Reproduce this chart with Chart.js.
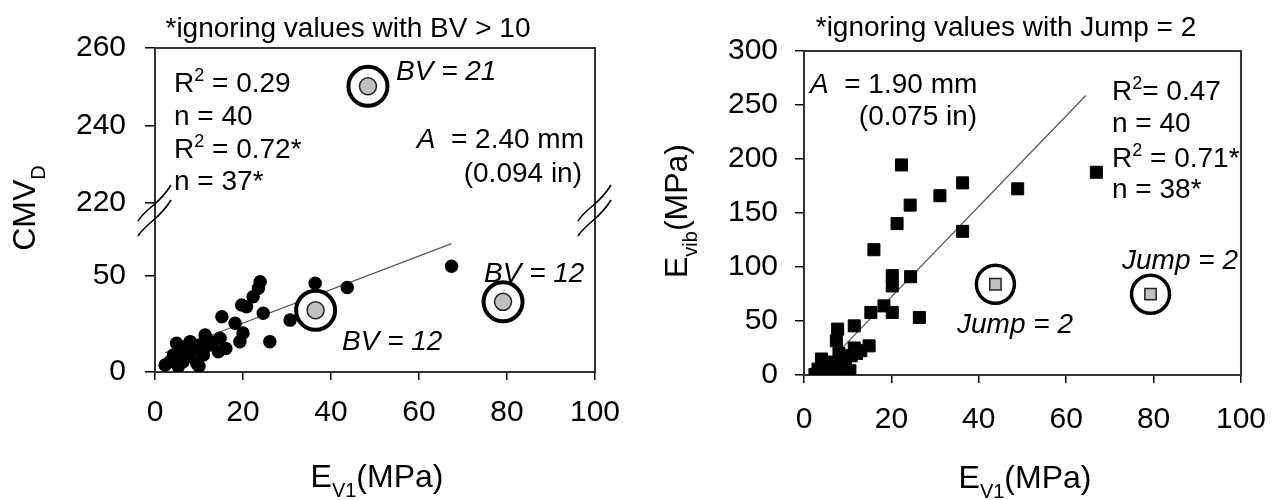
<!DOCTYPE html>
<html>
<head>
<meta charset="utf-8">
<script src="https://cdn.jsdelivr.net/npm/chart.js@4.4.1/dist/chart.umd.min.js"></script>
<style>
  body { margin: 0; background: #fff; }
  #wrap { position: relative; width: 1285px; height: 500px; }
  canvas { position: absolute; top: 0; }
  #left { left: 0; }
  #right { left: 642px; }
</style>
</head>
<body>
<div id="wrap">
  <canvas id="left" width="642" height="500"></canvas>
  <canvas id="right" width="643" height="500"></canvas>
</div>
<script>
// left panel: CMV_D vs E_V1 (A = 2.40 mm)
const cmvX = [67.4, 43.7, 36.4, 30.7, 26.1, 24.6, 23.9, 23.5, 22.3, 20.8, 19.7, 18.2, 20.0, 19.3, 15.2, 14.8, 14.4, 16.1, 11.4, 10.2, 8.0, 4.9, 5.7, 3.4, 2.3, 5.3, 9.5, 8.0, 11.0, 6.8, 9.1, 4.2, 6.4, 12.2, 7.2, 10.0, 13.0];
const cmvY = [55, 44, 46.2, 27, 15.8, 30.6, 47, 43.6, 39.2, 34, 34.9, 25.4, 20.3, 15.8, 28.8, 17.5, 10.6, 12.2, 19.3, 14.1, 15.8, 15, 10.6, 5.4, 3.6, 2.8, 4.5, 8.9, 8.9, 10.6, 12.3, 8.9, 5.4, 13.9, 13.5, 3.0, 15.6];
const cmvOutX = [36.5, 79.1];      // BV = 12
const cmvOutY = [32.1, 36.5];
const cmvHighX = [48.4];           // BV = 21
const cmvHighY = [250.1];
const cmvFitX = [2.3, 67.4];
const cmvFitY = [10.0, 66.8];
const cmvLowTicks = [0, 50];
const cmvHighTicks = [220, 240, 260];

// right panel: E_vib vs E_V1 (A = 1.90 mm)
const evibX = [66.9, 48.9, 36.3, 31.1, 22.3, 24.3, 21.3, 36.3, 16.0, 24.4, 20.2, 20.2, 18.3, 20.2, 15.3, 26.4, 11.5, 7.7, 7.4, 14.9, 13.0, 10.8, 8.5, 4.0, 3.2, 6.3, 9.3, 2.5, 5.0, 7.5, 10.5, 6.0, 9.5, 12.0, 4.5, 8.0, 11.5, 5.5];
const evibY = [187.7, 172.4, 177.9, 166, 194.5, 157.3, 140.2, 133, 116, 91, 92, 82.5, 64, 57.9, 57.9, 53.3, 45.5, 42.5, 31.7, 27, 22.5, 17.8, 14.8, 14.8, 5.5, 7.1, 7.1, 0.5, 2, 3, 4, 12, 12, 20, 9, 20, 25, 0.5];
const evibOutX = [43.8, 79.3];     // Jump = 2
const evibOutY = [84, 74.8];
const evibFitX = [3.0, 64.5];
const evibFitY = [1.1, 258.8];
const evibTicks = [0, 50, 100, 150, 200, 250, 300];

const xTicks = [0, 20, 40, 60, 80, 100];

const FONT = "'Liberation Sans', Arial, sans-serif";
const pts = (xs, ys) => xs.map((x, i) => ({x: x, y: ys[i]}));
const setTicks = vals => scale => { scale.ticks = vals.map(v => ({value: v})); };

// draw a line of text made of runs (italic / superscript / subscript)
function runs(ctx, x, y, parts, align, size) {
  const fontOf = p => (p.italic ? 'italic ' : '') + Math.round((p.sup || p.sub) ? size * 0.64 : size) + 'px ' + FONT;
  let total = 0;
  parts.forEach(p => { ctx.font = fontOf(p); p.w = ctx.measureText(p.t).width; total += p.w; });
  let cx = align === 'center' ? x - total / 2 : align === 'right' ? x - total : x;
  ctx.textAlign = 'left';
  ctx.textBaseline = 'alphabetic';
  ctx.fillStyle = '#000';
  parts.forEach(p => {
    ctx.font = fontOf(p);
    const dy = p.sup ? -size * 0.4 : p.sub ? size * 0.3 : 0;
    ctx.fillText(p.t, cx, y + dy);
    cx += p.w;
  });
}

function vertical(ctx, x, y, parts, size) {
  ctx.save();
  ctx.translate(x, y);
  ctx.rotate(-Math.PI / 2);
  runs(ctx, 0, 0, parts, 'center', size);
  ctx.restore();
}

const boxPlugin = {
  id: 'box',
  beforeDatasetsDraw(chart) {
    const a = chart.chartArea, ctx = chart.ctx;
    ctx.save();
    ctx.strokeStyle = '#333';
    ctx.lineWidth = 2;
    ctx.strokeRect(a.left, a.top, a.right - a.left, a.bottom - a.top);
    ctx.restore();
  }
};

function xScale(pad) {
  return {
    type: 'linear', min: 0, max: 100,
    afterBuildTicks: setTicks(xTicks),
    border: {display: false},
    grid: {drawOnChartArea: false, drawTicks: true, tickLength: 8, color: '#000', lineWidth: 1.5},
    ticks: {font: {family: FONT, size: 30}, color: '#000', padding: pad, maxRotation: 0, autoSkip: false}
  };
}

function yGrid(len) {
  return {drawOnChartArea: false, drawTicks: true, tickLength: len, color: '#000', lineWidth: 1.5};
}

const common = {
  responsive: false,
  animation: false,
  devicePixelRatio: 1,
  plugins: {legend: {display: false}, tooltip: {enabled: false}}
};

// ---------- left chart ----------
new Chart(document.getElementById('left'), {
  type: 'scatter',
  data: {
    datasets: [
      {data: pts(cmvHighX, cmvHighY), yAxisID: 'y2', pointRadius: 8.5, backgroundColor: '#c0c0c0', borderColor: '#222', borderWidth: 1.5, order: 0},
      {data: pts(cmvHighX, cmvHighY), yAxisID: 'y2', pointRadius: 19.5, backgroundColor: '#fff', borderColor: '#000', borderWidth: 4, order: 1},
      {data: pts(cmvOutX, cmvOutY), yAxisID: 'y', pointRadius: 8.5, backgroundColor: '#c0c0c0', borderColor: '#222', borderWidth: 1.5, order: 0},
      {data: pts(cmvOutX, cmvOutY), yAxisID: 'y', pointRadius: 19.5, backgroundColor: '#fff', borderColor: '#000', borderWidth: 4, order: 1},
      {data: pts(cmvX, cmvY), yAxisID: 'y', pointRadius: 6, backgroundColor: '#000', borderColor: '#000', borderWidth: 1.5, order: 2},
      {data: pts(cmvFitX, cmvFitY), yAxisID: 'y', showLine: true, pointRadius: 0, borderColor: '#555', borderWidth: 1.2, order: 3}
    ]
  },
  options: Object.assign({}, common, {
    layout: {padding: {top: 48, right: 47, left: 0, bottom: 0}},
    scales: {
      x: Object.assign(xScale(15), {afterFit: s => { s.height = 128; }}),
      y: {
        type: 'linear', position: 'left', stack: 'cmv', stackWeight: 159,
        min: 0, max: 83,
        afterBuildTicks: setTicks(cmvLowTicks),
        afterFit: s => { s.width = 155; },
        border: {display: false}, grid: yGrid(10),
        ticks: {font: {family: FONT, size: 30}, color: '#000', padding: 19}
      },
      y2: {
        type: 'linear', position: 'left', stack: 'cmv', stackWeight: 164,
        min: 217.5, max: 260,
        afterBuildTicks: setTicks(cmvHighTicks),
        afterFit: s => { s.width = 155; },
        border: {display: false}, grid: yGrid(10),
        ticks: {font: {family: FONT, size: 30}, color: '#000', padding: 19}
      }
    }
  }),
  plugins: [boxPlugin, {
    id: 'leftText',
    afterDraw(chart) {
      const ctx = chart.ctx, a = chart.chartArea;
      // axis break marks
      ctx.save();
      ctx.strokeStyle = '#000';
      ctx.lineWidth = 1.6;
      [a.left, a.right].forEach(cx => {
        [203, 218].forEach(cy => {
          ctx.beginPath();
          ctx.moveTo(cx - 17, cy + 18);
          ctx.bezierCurveTo(cx - 8, cy + 4, cx + 4, cy + 2, cx + 16, cy - 18);
          ctx.stroke();
        });
      });
      ctx.restore();

      runs(ctx, 348, 37, [{t: '*ignoring values with BV > 10'}], 'center', 28);
      runs(ctx, 174, 92, [{t: 'R'}, {t: '2', sup: true}, {t: ' = 0.29'}], 'left', 28);
      runs(ctx, 174, 125, [{t: 'n = 40'}], 'left', 28);
      runs(ctx, 174, 158, [{t: 'R'}, {t: '2', sup: true}, {t: ' = 0.72*'}], 'left', 28);
      runs(ctx, 174, 190, [{t: 'n = 37*'}], 'left', 28);
      runs(ctx, 396, 80, [{t: 'BV = 21', italic: true}], 'left', 28);
      runs(ctx, 584, 148, [{t: 'A', italic: true}, {t: '  = 2.40 mm'}], 'right', 28);
      runs(ctx, 582, 182, [{t: '(0.094 in)'}], 'right', 28);
      runs(ctx, 484, 282, [{t: 'BV = 12', italic: true}], 'left', 28);
      runs(ctx, 342, 350, [{t: 'BV = 12', italic: true}], 'left', 28);
      runs(ctx, 377, 487, [{t: 'E'}, {t: 'V1', sub: true}, {t: '(MPa)'}], 'center', 32);
      vertical(ctx, 35, 208, [{t: 'CMV'}, {t: 'D', sub: true}], 32);
    }
  }]
});

// ---------- right chart ----------
new Chart(document.getElementById('right'), {
  type: 'scatter',
  data: {
    datasets: [
      {data: pts(evibOutX, evibOutY), pointStyle: 'rect', pointRadius: 8, backgroundColor: '#c0c0c0', borderColor: '#222', borderWidth: 1.5, order: 0},
      {data: pts(evibOutX, evibOutY), pointRadius: 19, backgroundColor: '#fff', borderColor: '#000', borderWidth: 3.5, order: 1},
      {data: pts(evibX, evibY), pointStyle: 'rect', pointRadius: 8.5, backgroundColor: '#000', borderColor: '#000', borderWidth: 1, order: 2},
      {data: pts(evibFitX, evibFitY), showLine: true, pointRadius: 0, borderColor: '#555', borderWidth: 1.2, order: 3}
    ]
  },
  options: Object.assign({}, common, {
    layout: {padding: {top: 51, right: 39, left: 0, bottom: 0}},
    scales: {
      x: Object.assign(xScale(19), {afterFit: s => { s.height = 125; }}),
      y: {
        type: 'linear', position: 'left', min: 0, max: 300,
        afterBuildTicks: setTicks(evibTicks),
        afterFit: s => { s.width = 162; },
        border: {display: false}, grid: yGrid(9),
        ticks: {font: {family: FONT, size: 30}, color: '#000', padding: 17}
      }
    }
  }),
  plugins: [boxPlugin, {
    id: 'rightText',
    afterDraw(chart) {
      const ctx = chart.ctx;
      runs(ctx, 364, 36, [{t: '*ignoring values with Jump = 2'}], 'center', 28);
      runs(ctx, 168, 93, [{t: 'A', italic: true}, {t: '  = 1.90 mm'}], 'left', 28);
      runs(ctx, 276, 125, [{t: '(0.075 in)'}], 'center', 28);
      runs(ctx, 470, 100, [{t: 'R'}, {t: '2', sup: true}, {t: '= 0.47'}], 'left', 28);
      runs(ctx, 470, 132, [{t: 'n = 40'}], 'left', 28);
      runs(ctx, 470, 167, [{t: 'R'}, {t: '2', sup: true}, {t: ' = 0.71*'}], 'left', 28);
      runs(ctx, 470, 198, [{t: 'n = 38*'}], 'left', 28);
      runs(ctx, 480, 269, [{t: 'Jump = 2', italic: true}], 'left', 28);
      runs(ctx, 315, 333, [{t: 'Jump = 2', italic: true}], 'left', 28);
      runs(ctx, 383, 488, [{t: 'E'}, {t: 'V1', sub: true}, {t: '(MPa)'}], 'center', 32);
      vertical(ctx, 45, 211, [{t: 'E'}, {t: 'vib', sub: true}, {t: '(MPa)'}], 32);
    }
  }]
});
</script>
</body>
</html>
